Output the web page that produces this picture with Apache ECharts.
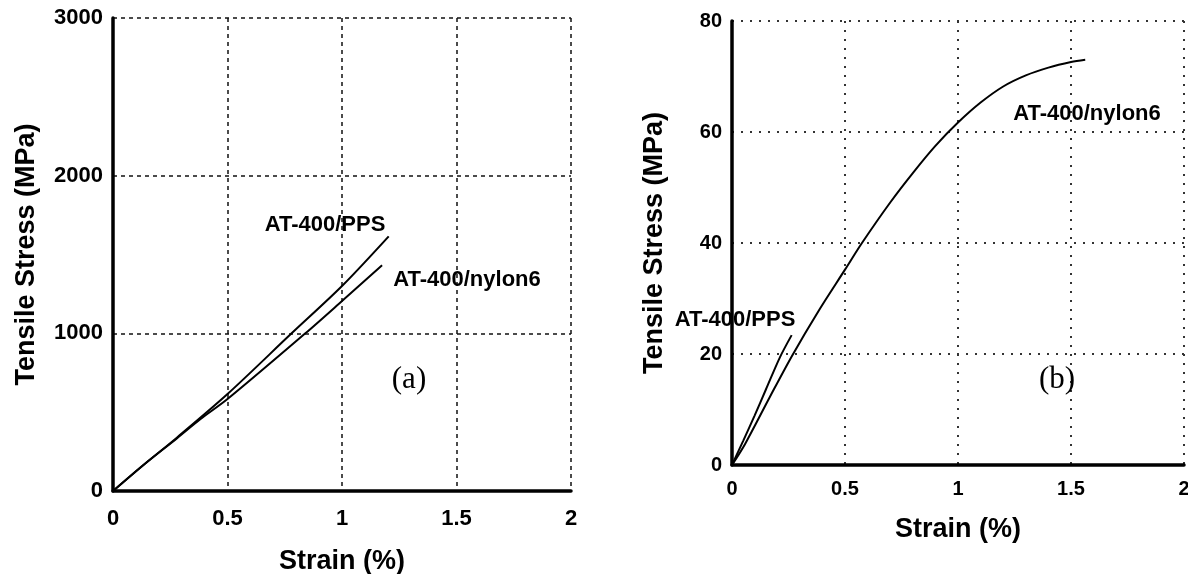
<!DOCTYPE html>
<html>
<head>
<meta charset="utf-8">
<script src="https://cdn.jsdelivr.net/npm/echarts@6/dist/echarts.min.js"></script>
<style>
html,body{margin:0;padding:0;background:#fff;}
#c{width:1188px;height:574px;}
</style>
</head>
<body>
<div id="c"></div>
<script>
// ---- Data (strain %, tensile stress MPa) ----
const xTicksA = [0, 0.5, 1, 1.5, 2];
const yTicksA = [0, 1000, 2000, 3000];
const xTicksB = [0, 0.5, 1, 1.5, 2];
const yTicksB = [0, 20, 40, 60, 80];

const ppsA = [[0,0],[0.133,165],[0.28,340],[0.5,615],[0.78,1000],[1.0,1300],[1.204,1615]];
const nylonA = [[0,0],[0.133,165],[0.28,335],[0.381,455],[0.5,583],[0.84,1000],[1.0,1205],[1.175,1432]];

const ppsB = [[0,0],[0.05,4.4],[0.1,8.9],[0.15,13.6],[0.212,19.4],[0.264,23.4]];
const nylonB = [[0,0],[0.058,3.8],[0.168,12.3],[0.266,19.7],[0.385,27.9],[0.5,35.2],[0.575,40],[0.7,47.3],[0.8,52.6],[0.9,57.5],[1.0,61.7],[1.1,65.3],[1.2,68.2],[1.3,70.2],[1.4,71.6],[1.5,72.6],[1.563,73.0]];

const labelFont = '"Liberation Sans", Arial, sans-serif';

function xAx(gridIndex, ticks, fs, margin, gap, dash, dw, dc) {
  return {
    type: 'value', gridIndex, min: ticks[0], max: ticks[ticks.length-1], interval: ticks[1]-ticks[0],
    name: 'Strain (%)', nameLocation: 'middle', nameGap: gap,
    nameTextStyle: {fontFamily: labelFont, fontWeight: 'bold', fontSize: 27, color: '#000'},
    axisLine: {show: true, onZero: false, lineStyle: {color: '#000', width: 3.5}},
    axisTick: {show: false},
    axisLabel: {fontFamily: labelFont, fontWeight: 'bold', fontSize: fs, color: '#000', margin,
      formatter: v => String(v)},
    splitLine: {show: true, lineStyle: {color: dc, width: dw, type: dash}}
  };
}
function yAx(gridIndex, ticks, fs, margin, gap, dash, dw, dc) {
  return {
    type: 'value', gridIndex, min: ticks[0], max: ticks[ticks.length-1], interval: ticks[1]-ticks[0],
    name: 'Tensile Stress (MPa)', nameLocation: 'middle', nameGap: gap,
    nameTextStyle: {fontFamily: labelFont, fontWeight: 'bold', fontSize: 27, color: '#000'},
    axisLine: {show: true, onZero: false, lineStyle: {color: '#000', width: 3.5}},
    axisTick: {show: false},
    axisLabel: {fontFamily: labelFont, fontWeight: 'bold', fontSize: fs, color: '#000', margin,
      formatter: v => String(v)},
    splitLine: {show: true, lineStyle: {color: dc, width: dw, type: dash}}
  };
}
function line(name, data, xi, yi) {
  return {name, type: 'line', xAxisIndex: xi, yAxisIndex: yi, data, showSymbol: false, smooth: 0.3,
    lineStyle: {color: '#000', width: 2}, itemStyle: {color: '#000'}, z: 5};
}
function txt(text, cx, cy, fs, font, bold) {
  return {type: 'text', x: cx, y: cy, z: 10,
    style: {text, font: (bold ? 'bold ' : '') + fs + 'px ' + font, fill: '#000', align: 'center', verticalAlign: 'middle'}};
}

const chart = echarts.init(document.getElementById('c'), null, {renderer: 'canvas'});
chart.setOption({
  animation: false,
  backgroundColor: '#fff',
  grid: [
    {left: 113, top: 18, width: 458, height: 473, outerBoundsMode: 'none', containLabel: false},
    {left: 732, top: 21, width: 452, height: 444, outerBoundsMode: 'none', containLabel: false}
  ],
  xAxis: [
    xAx(0, xTicksA, 22, 17, 57, [4, 4], 1.5, '#111'),
    xAx(1, xTicksB, 20, 14, 51, [2, 7], 2, '#333')
  ],
  yAxis: [
    yAx(0, yTicksA, 22, 10, 73, [4, 4], 1.5, '#111'),
    yAx(1, yTicksB, 20, 10, 64, [2, 7], 2, '#333')
  ],
  series: [
    line('AT-400/PPS', ppsA, 0, 0),
    line('AT-400/nylon6', nylonA, 0, 0),
    line('AT-400/PPS', ppsB, 1, 1),
    line('AT-400/nylon6', nylonB, 1, 1)
  ],
  graphic: [
    txt('AT-400/PPS', 325, 225, 22, labelFont, true),
    txt('AT-400/nylon6', 467, 280, 22, labelFont, true),
    txt('(a)', 409, 380, 31, '"Liberation Serif", "Times New Roman", serif', false),
    txt('AT-400/PPS', 735, 320, 22, labelFont, true),
    txt('AT-400/nylon6', 1087, 114, 22, labelFont, true),
    txt('(b)', 1057, 380, 31, '"Liberation Serif", "Times New Roman", serif', false)
  ]
});
</script>
</body>
</html>
